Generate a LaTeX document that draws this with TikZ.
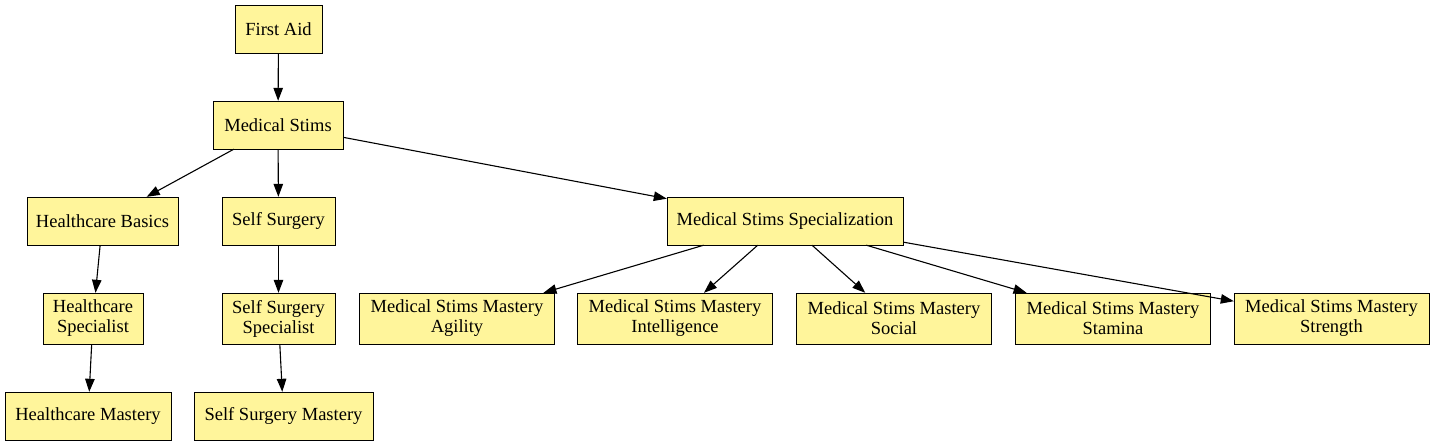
\documentclass[tikz,border=0pt]{standalone}
\usepackage{fontspec}
\setmainfont{Liberation Serif}
\usetikzlibrary{arrows.meta}
\definecolor{SkillFill}{RGB}{255,245,155}

\begin{document}
\begin{tikzpicture}[x=1pt,y=-1pt,font=\fontsize{18.5}{20}\selectfont,
skill/.style n args={2}{draw,fill=SkillFill,minimum width=#1pt,minimum height=#2pt,inner sep=0pt,align=center},
dep/.style={-{Triangle[length=13pt,width=9.5pt]},line width=1.1pt}]
\useasboundingbox (0,0) rectangle (1435,445);
\node[skill={87}{48}](firstaid) at (278.5,29) {First Aid};
\node[skill={130}{48}](stims) at (278,125) {Medical Stims};
\node[skill={151}{48}](hcbasics) at (102.5,221) {Healthcare Basics};
\node[skill={113}{48}](selfsurg) at (278.5,221) {Self Surgery};
\node[skill={236}{48}](spec) at (785,221) {Medical Stims Specialization};
\node[skill={100}{51}](hcspec) at (93,318.5) {Healthcare\\Specialist};
\node[skill={113}{51}](ssspec) at (278.5,318.5) {Self Surgery\\Specialist};
\node[skill={166}{48}](hcmast) at (88,416) {Healthcare Mastery};
\node[skill={179}{48}](ssmast) at (283.5,416) {Self Surgery Mastery};
\draw[dep] (firstaid) -- (stims);
\draw[dep] (stims) -- (hcbasics);
\draw[dep] (stims) -- (selfsurg);
\draw[dep] (stims) -- (spec);
\draw[dep] (hcbasics) -- (hcspec);
\draw[dep] (selfsurg) -- (ssspec);
\draw[dep] (hcspec) -- (hcmast);
\draw[dep] (ssspec) -- (ssmast);
\foreach \x/\n/\lbl in {457/agi/Agility,675/int/Intelligence,894/soc/Social,1113/sta/Stamina,1331.5/str/Strength} {
   \node[skill={195}{51}](\n) at (\x,318.5) {Medical Stims Mastery\\\lbl};
   \draw[dep] (spec) -- (\n);
}
\end{tikzpicture}
\end{document}
